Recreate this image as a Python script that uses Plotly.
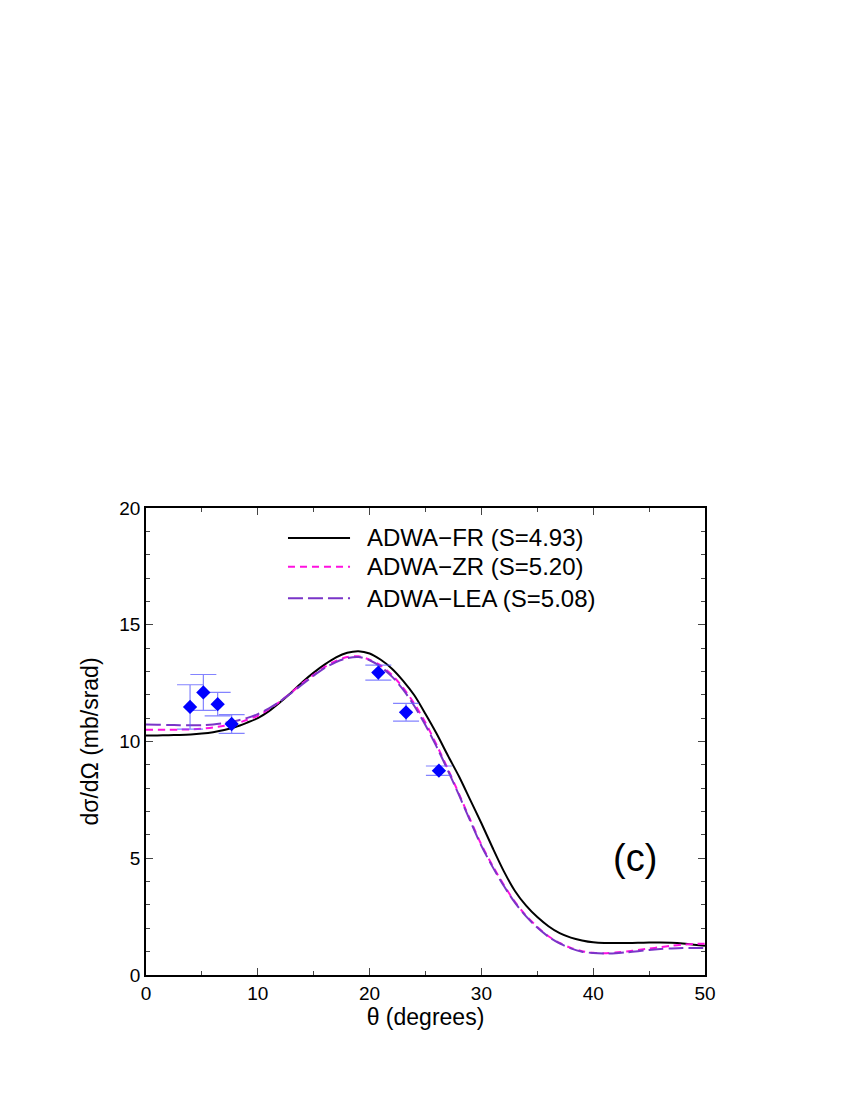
import plotly.graph_objects as go

# 理论曲线的角度网格 (degrees)
theta = list(range(0, 51))

# ADWA-FR (S=4.93)
fr = [10.26, 10.26, 10.27, 10.28, 10.3, 10.34, 10.4, 10.49, 10.62, 10.8,
      11.0, 11.3, 11.68, 12.1, 12.55, 12.95, 13.3, 13.6, 13.8, 13.87,
      13.77, 13.5, 13.12, 12.6, 11.98, 11.18, 10.33, 9.4, 8.5, 7.5,
      6.5, 5.45, 4.45, 3.6, 2.97, 2.48, 2.09, 1.79, 1.6, 1.48,
      1.4, 1.37, 1.37, 1.37, 1.38, 1.39, 1.39, 1.38, 1.35, 1.3, 1.25]

# ADWA-ZR (S=5.20)
zr = [10.5, 10.5, 10.5, 10.51, 10.52, 10.55, 10.6, 10.67, 10.76, 10.92,
      11.1, 11.38, 11.72, 12.1, 12.5, 12.86, 13.2, 13.45, 13.62, 13.65,
      13.5, 13.25, 12.85, 12.3, 11.62, 10.8, 9.85, 8.82, 7.75, 6.65,
      5.58, 4.68, 3.86, 3.13, 2.54, 2.06, 1.66, 1.37, 1.16, 1.02,
      0.95, 0.93, 0.96, 1.01, 1.07, 1.13, 1.19, 1.25, 1.3, 1.33, 1.34]

# ADWA-LEA (S=5.08)
lea = [10.73, 10.72, 10.71, 10.7, 10.7, 10.7, 10.73, 10.79, 10.88, 11.0,
       11.17, 11.42, 11.72, 12.08, 12.45, 12.82, 13.15, 13.4, 13.57, 13.62,
       13.48, 13.2, 12.78, 12.22, 11.52, 10.7, 9.77, 8.76, 7.7, 6.6,
       5.53, 4.63, 3.82, 3.1, 2.51, 2.03, 1.64, 1.35, 1.14, 1.0,
       0.94, 0.92, 0.93, 0.97, 1.02, 1.07, 1.11, 1.14, 1.16, 1.16, 1.15]

# 实验数据点
exp_theta = [3.94, 5.13, 6.41, 7.66, 20.78, 23.26, 26.2]
exp_xs = [11.48, 12.1, 11.6, 10.75, 12.95, 11.25, 8.75]
exp_err = [0.95, 0.77, 0.5, 0.4, 0.32, 0.38, 0.2]

legend_labels = ["ADWA\u2212FR (S=4.93)", "ADWA\u2212ZR (S=5.20)", "ADWA\u2212LEA (S=5.08)"]

FONT = "Liberation Sans, Arial, Helvetica, sans-serif"
colors = ["#000000", "#ff10e0", "#7a35c8"]
dashes = ["solid", "7px,5px", "15px,5px"]

fig = go.Figure()

for ys, col, dash in zip([fr, zr, lea], colors, dashes):
    fig.add_trace(go.Scatter(
        x=theta, y=ys, mode="lines", line_shape="spline",
        line=dict(color=col, width=2, dash=dash, smoothing=0.8), showlegend=False
    ))

fig.add_trace(go.Scatter(
    x=exp_theta, y=exp_xs, mode="markers",
    marker=dict(symbol="diamond", size=11, color="#0000ff"),
    error_y=dict(type="data", array=exp_err, color="rgba(90,90,255,0.75)",
                 thickness=1.2, width=13),
    showlegend=False
))

# 手绘图例 (与原图一致的长线段)
leg_y = [0.936, 0.874, 0.807]
for lab, col, dash, yy in zip(legend_labels, colors, dashes, leg_y):
    fig.add_shape(type="line", xref="paper", yref="paper",
                  x0=0.254, x1=0.365, y0=yy, y1=yy,
                  line=dict(color=col, width=2, dash=dash))
    fig.add_annotation(xref="paper", yref="paper", x=0.392, y=yy, text=lab,
                       showarrow=False, xanchor="left", yanchor="middle",
                       font=dict(size=24, color="black", family=FONT))

fig.add_annotation(xref="x", yref="y", x=43.7, y=5.0, text="(c)", showarrow=False,
                   font=dict(size=38, color="black", family=FONT))

axis_common = dict(
    showline=True, linecolor="black", linewidth=1.5, mirror="ticks",
    ticks="inside", ticklen=7, tickwidth=1, tickcolor="#444",
    showgrid=False, zeroline=False,
    tickfont=dict(size=19, color="black", family=FONT),
)

fig.update_xaxes(
    range=[0, 50], dtick=10, tick0=0,
    minor=dict(dtick=5, ticks="inside", ticklen=4, tickcolor="#444", showgrid=False),
    title=dict(text="\u03b8 (degrees)", font=dict(size=23, color="black", family=FONT), standoff=2),
    **axis_common
)
fig.update_yaxes(
    range=[0, 20], dtick=5, tick0=0,
    minor=dict(dtick=1, ticks="inside", ticklen=4, tickcolor="#444", showgrid=False),
    title=dict(text="d\u03c3/d\u03a9 (mb/srad)", font=dict(size=23, color="black", family=FONT), standoff=14),
    **axis_common
)

fig.update_layout(
    width=850, height=1100,
    margin=dict(l=138, r=153, t=500, b=133),
    paper_bgcolor="white", plot_bgcolor="white",
    font=dict(family=FONT, color="black"),
)

fig.write_html("out.html")
